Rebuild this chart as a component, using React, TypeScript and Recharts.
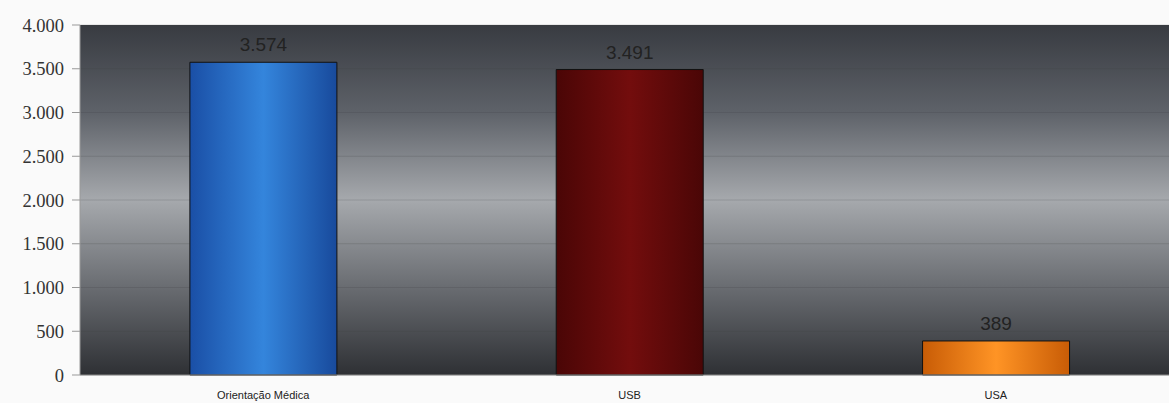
import { BarChart, Bar, XAxis, YAxis, CartesianGrid, Cell, LabelList } from 'recharts';

const categories = ['Orientação Médica', 'USB', 'USA'];
const values = [3574, 3491, 389];
const yTicks = [0, 500, 1000, 1500, 2000, 2500, 3000, 3500, 4000];
const barFills = ['url(#gBlue)', 'url(#gRed)', 'url(#gOrange)'];

const data = categories.map((name, i) => ({ name, value: values[i] }));

// thousands with a dot, as in the source
const fmt = (v: number) => String(v).replace(/\B(?=(\d{3})+(?!\d))/g, '.');

export default function App() {
  return (
    <div style={{ position: 'fixed', left: 0, top: 0, width: 1169, height: 403, overflow: 'hidden', background: '#fafafa' }}>
      <BarChart
        width={1190}
        height={403}
        data={data}
        margin={{ top: 25, right: 11, left: 0, bottom: 0 }}
        barCategoryGap="30%"
      >
        <defs>
          <linearGradient id="gBg" x1="0" y1="0" x2="0" y2="1">
            <stop offset="0%" stopColor="#383b41" />
            <stop offset="25%" stopColor="#5e6269" />
            <stop offset="50%" stopColor="#a6a9ad" />
            <stop offset="75%" stopColor="#696c71" />
            <stop offset="100%" stopColor="#2e3034" />
          </linearGradient>
          <linearGradient id="gBlue" x1="0" y1="0" x2="1" y2="0">
            <stop offset="0%" stopColor="#1a4fa6" />
            <stop offset="50%" stopColor="#3485dc" />
            <stop offset="100%" stopColor="#184a9c" />
          </linearGradient>
          <linearGradient id="gRed" x1="0" y1="0" x2="1" y2="0">
            <stop offset="0%" stopColor="#4a0606" />
            <stop offset="50%" stopColor="#730d0d" />
            <stop offset="100%" stopColor="#4a0606" />
          </linearGradient>
          <linearGradient id="gOrange" x1="0" y1="0" x2="1" y2="0">
            <stop offset="0%" stopColor="#c85c06" />
            <stop offset="50%" stopColor="#ff9425" />
            <stop offset="100%" stopColor="#c85c06" />
          </linearGradient>
        </defs>
        <CartesianGrid
          vertical={false}
          fill="url(#gBg)"
          fillOpacity={1}
          stroke="#3a3a40"
          strokeOpacity={0.2}
        />
        <XAxis
          dataKey="name"
          height={28}
          axisLine={{ stroke: '#888' }}
          tickLine={false}
          tick={{ fill: '#222', fontSize: 11, fontFamily: 'Liberation Sans, Arial, sans-serif' }}
          tickMargin={10}
        />
        <YAxis
          width={80}
          domain={[0, 4000]}
          ticks={yTicks}
          tickFormatter={fmt}
          axisLine={{ stroke: '#999' }}
          tickLine={{ stroke: '#999' }}
          tickSize={8}
          tickMargin={8}
          tick={{ fill: '#333', fontSize: 18.5, fontFamily: 'Liberation Serif, Times New Roman, serif' }}
        />
        <Bar dataKey="value" stroke="#111" strokeWidth={1} isAnimationActive={false}>
          {data.map((d, i) => (
            <Cell key={d.name} fill={barFills[i]} />
          ))}
          <LabelList
            dataKey="value"
            position="top"
            offset={11}
            formatter={(v: any) => fmt(Number(v))}
            style={{ fill: '#222', fontSize: 19, fontFamily: 'Liberation Sans, Arial, sans-serif' }}
          />
        </Bar>
      </BarChart>
    </div>
  );
}
